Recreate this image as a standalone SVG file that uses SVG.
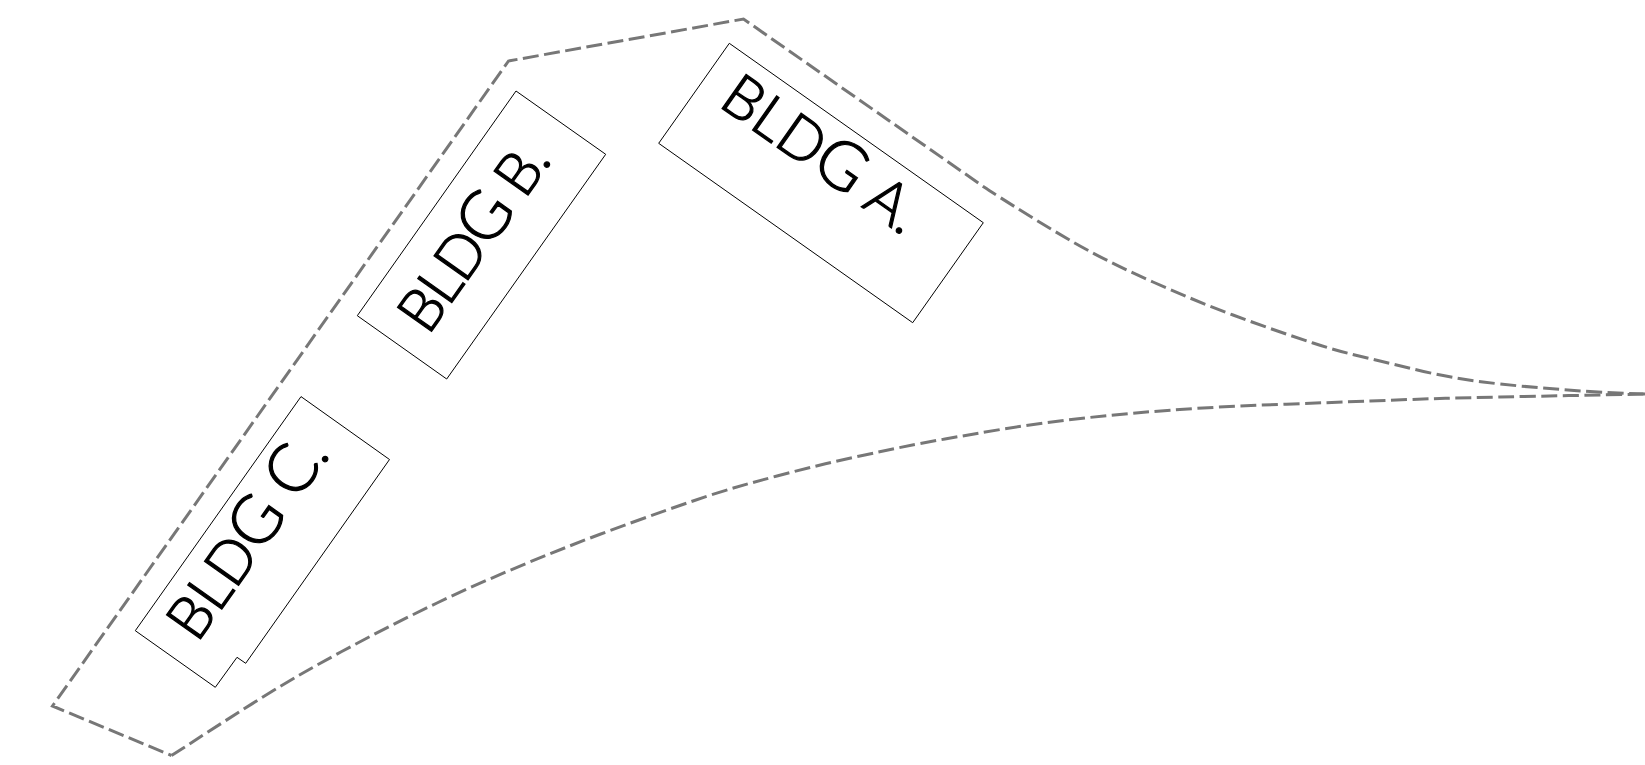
<svg xmlns="http://www.w3.org/2000/svg" width="1645" height="765" viewBox="0 0 1645 765">
<style>
.outline{fill:none;stroke:#777;stroke-width:3;stroke-dasharray:16 5.500}
.b{fill:#fff;stroke:#000;stroke-width:1}
.t{font-family:Lato,"Liberation Sans",sans-serif;font-size:59px;font-weight:300;stroke:#000;stroke-width:1.200px;fill:#000}
.r{font-size:67px}
</style>
<rect width="1645" height="765" fill="#fff"/>
<g id="connectors">
<path class="outline" d="M1645 394C1600 393 1527 387.500 1483 382C1439 376.500 1408 367.500 1380 361C1352 354.500 1337.500 351 1313 343C1288.500 335 1260 325 1233 315C1206 305 1180 294 1153 282C1126 270 1101 258 1073 242C1045 226 999 197 984 187L743.500 19L508.500 61L52.500 706L171.500 755.500"/>
<path class="outline" d="M171.500 755.500C193 742 259 698 303 673C347 648 393 624 437 603C481 582 524 564 567 547C610 530 658 513 693 501C728 489 749 483.500 777 476C805 468.500 832 462 860 456C888 450 910.500 445 945 439C979.500 433 1024 425 1067 420C1110 415 1153 411 1203 408C1253 405 1320 403 1370 401C1420 399 1454 398 1500 397C1546 396 1600 395 1645 394"/>
</g>
<g id="bldg-a">
<polygon class="b" points="729.300,43.300 983.300,222.700 912.700,322.700 658.700,143.300"/>
<text class="t" transform="translate(717 105) rotate(35.200)" textLength="228" lengthAdjust="spacing">BLD<tspan class="r">G</tspan> A.</text>
</g>
<g id="bldg-b">
<polygon class="b" points="516,91 605.700,154.300 446.700,379 357.300,315.700"/>
<text class="t" transform="translate(428 336.500) rotate(-54.700)" textLength="216" lengthAdjust="spacing">BLD<tspan class="r">G</tspan> B.</text>
</g>
<g id="bldg-c">
<polygon class="b" points="301,396.600 389.500,459.500 245.700,663.300 237,657.300 215.300,687.300 135.300,630.700"/>
<text class="t" transform="translate(197 644) rotate(-54.700)" textLength="232" lengthAdjust="spacing">BLD<tspan class="r">G</tspan> <tspan class="r">C</tspan>.</text>
</g>
</svg>
